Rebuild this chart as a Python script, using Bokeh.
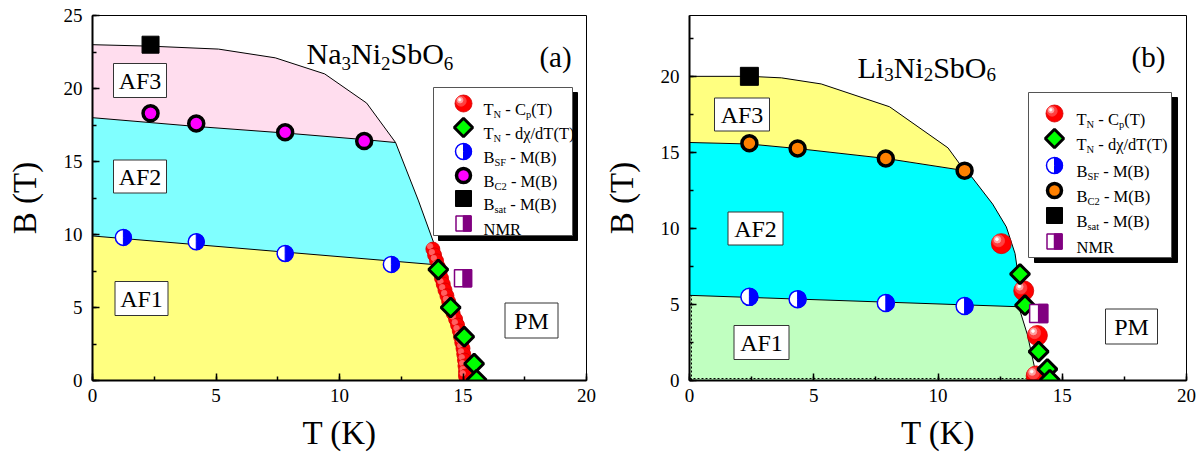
import math
from bokeh.plotting import figure
from bokeh.layouts import row
from bokeh.models import ColumnDataSource, SingleIntervalTicker, Range1d
from bokeh.core.properties import value
from bokeh.embed import file_html
from bokeh.resources import INLINE

FONT = "Liberation Serif"

# ---------------- Panel (a): Na3Ni2SbO6 ----------------
a_cp_T = [13.78, 13.85, 13.93, 14.0, 14.07, 14.13, 14.2, 14.27, 14.35, 14.42, 14.5, 14.6,
          14.7, 14.78, 14.85, 14.9, 14.95, 15.0, 15.03, 15.06, 15.08, 15.1, 15.1]
a_cp_B = [9.0, 8.6, 8.2, 7.8, 7.4, 7.0, 6.6, 6.2, 5.8, 5.4, 5.0, 4.6,
          4.2, 3.8, 3.4, 3.0, 2.6, 2.2, 1.8, 1.4, 1.0, 0.6, 0.3]
a_dchi_T = [14.0, 14.5, 15.05, 15.45, 15.55]
a_dchi_B = [7.6, 5.0, 3.0, 1.15, 0.05]
a_sf_T = [1.25, 4.2, 7.8, 12.1]
a_sf_B = [9.8, 9.5, 8.7, 7.95]
a_c2_T = [2.35, 4.2, 7.8, 11.0]
a_c2_B = [18.3, 17.6, 17.0, 16.4]
a_sat_T = [2.35]
a_sat_B = [23.0]
a_nmr_T = [15.0]
a_nmr_B = [7.0]
# phase boundaries (a)
a_b1_T = [0.0, 13.75]
a_b1_B = [9.9, 7.95]
a_b2_T = [0.0, 4.2, 7.8, 11.0, 12.27]
a_b2_B = [18.0, 17.4, 16.95, 16.5, 16.3]
a_top_T = [0.0, 2.35, 5.1, 7.4, 9.4, 11.1, 12.27]
a_top_B = [23.0, 22.9, 22.7, 22.1, 21.0, 19.0, 16.3]
a_e2_T = [12.27, 13.2, 13.8, 13.75]
a_e2_B = [16.3, 12.3, 9.5, 7.95]
a_e1_T = [13.75, 14.2, 14.6, 14.9, 15.0]
a_e1_B = [7.95, 6.0, 4.0, 2.0, 0.0]

# ---------------- Panel (b): Li3Ni2SbO6 ----------------
b_cp_T = [12.55, 13.45, 14.0, 13.95]
b_cp_B = [9.0, 5.9, 2.96, 0.3]
b_dchi_T = [13.3, 13.5, 14.05, 14.4, 14.5]
b_dchi_B = [7.0, 4.95, 1.9, 0.75, 0.05]
b_sf_T = [2.41, 4.35, 7.9, 11.07]
b_sf_B = [5.5, 5.35, 5.1, 4.9]
b_c2_T = [2.41, 4.35, 7.9, 11.07]
b_c2_B = [15.6, 15.26, 14.6, 13.8]
b_sat_T = [2.41]
b_sat_B = [20.0]
b_nmr_T = [14.05]
b_nmr_B = [4.4]
# phase boundaries (b)
b_b1_T = [0.0, 13.25]
b_b1_B = [5.6, 4.85]
b_b2_T = [0.0, 2.41, 4.35, 7.9, 11.07]
b_b2_B = [15.65, 15.55, 15.25, 14.6, 13.8]
b_top_T = [0.0, 2.41, 3.7, 5.3, 8.05, 10.4, 11.07]
b_top_B = [20.0, 20.0, 19.9, 19.5, 18.0, 15.3, 13.8]
b_e2_T = [11.07, 11.35, 12.2, 12.75, 13.1, 13.3, 13.25]
b_e2_B = [13.8, 13.4, 11.6, 10.1, 8.35, 6.1, 4.85]
b_e1_T = [13.25, 13.6, 14.0]
b_e1_B = [4.85, 3.0, 0.0]

x_ticks_interval = 5
legend_a = [("red", [("T", 0), ("N", 1), (" - C", 0), ("p", 1), ("(T)", 0)]),
            ("dia", [("T", 0), ("N", 1), (" - d\u03c7/dT(T)", 0)]),
            ("sf", [("B", 0), ("SF", 1), (" - M(B)", 0)]),
            ("c2", [("B", 0), ("C2", 1), (" - M(B)", 0)]),
            ("sat", [("B", 0), ("sat", 1), (" - M(B)", 0)]),
            ("nmr", [("NMR", 0)])]

W = {' ': 0.25, '-': 0.333, '(': 0.333, ')': 0.333, '/': 0.278, 'A': 0.722, 'B': 0.667,
     'C': 0.667, 'F': 0.556, 'K': 0.722, 'L': 0.611, 'M': 0.889, 'N': 0.722, 'O': 0.722,
     'P': 0.556, 'R': 0.667, 'S': 0.556, 'T': 0.611, 'a': 0.444, 'b': 0.5, 'd': 0.5,
     'i': 0.278, 'p': 0.5, 's': 0.389, 't': 0.278, '\u03c7': 0.55}


def tw(s, fs):
    return sum(W.get(ch, 0.5) for ch in s) * fs


def make_panel(frame_left, fw, ymax, bl, br):
    fh = 365
    p = figure(frame_width=fw, frame_height=fh, min_border_left=bl, min_border_right=br,
               min_border_top=15, min_border_bottom=81,
               x_range=Range1d(0, 20), y_range=Range1d(0, ymax),
               output_backend="svg", toolbar_location=None)
    p.xgrid.visible = False
    p.ygrid.visible = False
    p.outline_line_color = "black"
    p.outline_line_width = 1
    p.background_fill_color = "white"
    p.border_fill_color = "white"
    for ax in (p.xaxis[0], p.yaxis[0]):
        ax.ticker = SingleIntervalTicker(interval=x_ticks_interval, num_minor_ticks=2)
        ax.axis_line_width = 2
        ax.major_tick_in = 7
        ax.major_tick_out = 0
        ax.minor_tick_in = 4
        ax.minor_tick_out = 0
        ax.major_tick_line_width = 1.5
        ax.minor_tick_line_width = 1.5
        ax.major_label_text_font = FONT
        ax.major_label_text_font_size = "19px"
        ax.major_label_text_color = "black"
        ax.axis_label_text_font = FONT
        ax.axis_label_text_font_size = "33px"
        ax.axis_label_text_font_style = "normal"
        ax.axis_label_text_color = "black"
    p.xaxis.major_label_standoff = 8
    p.yaxis.major_label_standoff = 10
    p.xaxis.axis_label = "T (K)"
    p.yaxis.axis_label = "B (T)"
    p.xaxis.axis_label_standoff = 10
    p.yaxis.axis_label_standoff = 18
    return dict(p=p, left=frame_left, bottom=380, kx=fw / 20.0, ky=fh / ymax)


def d2(P, px, py):
    return ((px - P['left']) / P['kx'], (P['bottom'] - py) / P['ky'])


def region(P, Ts, Bs, color):
    P['p'].patch(Ts, Bs, fill_color=color, line_color=None)


def bline(P, Ts, Bs):
    P['p'].line(Ts, Bs, line_color="black", line_width=1)


def red_balls(P, Ts, Bs, d, light=True):
    kx, ky = P['kx'], P['ky']
    xs, ys, sz, fc, lc = [], [], [], [], []
    if light:
        layers = [(1.0, 0.0, "#FF0000", "#D00000"), (0.6, 0.14, "#FF4040", "#FF4040"),
                  (0.34, 0.2, "#FFA0A0", "#FFA0A0"), (0.14, 0.22, "#FFFFFF", "#FFFFFF")]
    else:
        layers = [(1.0, 0.0, "#FF0000", "#D00000"), (0.4, 0.2, "#FF6060", "#FF6060")]
    for T, B in zip(Ts, Bs):
        for f, o, c, l in layers:
            xs.append(T - o * d / kx)
            ys.append(B + o * d / ky)
            sz.append(f * d)
            fc.append(c)
            lc.append(l)
    src = ColumnDataSource(dict(x=xs, y=ys, s=sz, fc=fc, lc=lc))
    P['p'].scatter('x', 'y', size='s', fill_color='fc', line_color='lc', line_width=0.8, source=src)


def diamonds(P, Ts, Bs, s=13.5):
    P['p'].scatter(Ts, Bs, marker="square", angle=math.pi / 4, size=s, fill_color="#00FF00",
                   line_color="black", line_width=3)


def half_circles(P, Ts, Bs, d, color="#0000FF"):
    p = P['p']
    p.scatter(Ts, Bs, size=d, fill_color="white", line_color=color, line_width=1.5)
    p.wedge(Ts, Bs, radius=d / 2, radius_units="screen", start_angle=-math.pi / 2,
            end_angle=math.pi / 2, fill_color=color, line_color=color, line_width=1)


def ringed(P, Ts, Bs, s, color):
    P['p'].scatter(Ts, Bs, size=s, fill_color=color, line_color="black", line_width=3.5)


def squares(P, Ts, Bs, s):
    P['p'].scatter(Ts, Bs, marker="square", size=s, fill_color="black", line_color="black")


def nmr(P, Ts, Bs, w, h, color="#800080"):
    p = P['p']
    p.rect(Ts, Bs, width=w, height=h, width_units="screen", height_units="screen",
           fill_color="white", line_color=color, line_width=1.5)
    xs2 = [T + (w / 4.0) / P['kx'] for T in Ts]
    p.rect(xs2, Bs, width=w / 2.0, height=h, width_units="screen", height_units="screen",
           fill_color=color, line_color=color, line_width=1.5)


def rich(P, px, pybase, segs, fs, subfs, suboff, align="left"):
    x, y = d2(P, px, pybase)
    total = sum(tw(t, subfs if s else fs) for t, s in segs)
    off = -total / 2.0 if align == "center" else 0.0
    xs, ys, tx, xo, yo, fss = [], [], [], [], [], []
    for t, s in segs:
        f = subfs if s else fs
        lead = len(t) - len(t.lstrip(' '))
        core = t.strip(' ')
        trail = len(t) - lead - len(core)
        off += tw(' ' * lead, f)
        xs.append(x); ys.append(y); tx.append(core); xo.append(off)
        yo.append(suboff if s else 0); fss.append("%.1fpx" % f)
        off += tw(core, f) + tw(' ' * trail, f)
    src = ColumnDataSource(dict(x=xs, y=ys, text=tx, xo=xo, yo=yo, fs=fss))
    P['p'].text('x', 'y', text='text', x_offset='xo', y_offset='yo', text_font_size='fs',
                text_font=value(FONT), text_baseline="alphabetic", text_align="left",
                text_color="black", source=src)


def boxed(P, px, py, w, h, text, fs=24):
    x, y = d2(P, px, py)
    p = P['p']
    p.rect([x], [y], width=w, height=h, width_units="screen", height_units="screen",
           fill_color="white", line_color="#333333", line_width=1)
    p.text([x], [y], text=[text], text_align="center", text_baseline="middle",
           text_font=value(FONT), text_font_size="%dpx" % fs, text_color="black")


def legend(P, box, shadow, rows_y, mx, tx, items, c2color, red_d=17):
    p = P['p']
    x0, y0, x1, y1 = box
    cx, cy = d2(P, (x0 + x1) / 2 + shadow[0], (y0 + y1) / 2 + shadow[1])
    p.rect([cx], [cy], width=x1 - x0, height=y1 - y0, width_units="screen", height_units="screen",
           fill_color="black", line_color="black")
    cx, cy = d2(P, (x0 + x1) / 2, (y0 + y1) / 2)
    p.rect([cx], [cy], width=x1 - x0, height=y1 - y0, width_units="screen", height_units="screen",
           fill_color="white", line_color="#555555", line_width=1)
    for (kind, segs), ry in zip(items, rows_y):
        T, B = d2(P, mx, ry)
        if kind == "red":
            red_balls(P, [T], [B], red_d)
        elif kind == "dia":
            diamonds(P, [T], [B], 13)
        elif kind == "sf":
            half_circles(P, [T], [B], 16)
        elif kind == "c2":
            ringed(P, [T], [B], 14, c2color)
        elif kind == "sat":
            squares(P, [T], [B], 16)
        elif kind == "nmr":
            nmr(P, [T], [B], 15, 15)
        rich(P, tx, ry + 6, segs, 16.5, 10.5, 4.5)


# ---------------- build panel (a) ----------------
A = make_panel(92, 494, 25, 92, 14)
pa = A['p']
region(A, [0.0] + a_b1_T + a_e1_T[1:] + [0.0], [0.0] + a_b1_B + a_e1_B[1:] + [0.0], "#FFFF80")
region(A, a_b2_T + a_e2_T[1:] + a_b1_T[::-1], a_b2_B + a_e2_B[1:] + a_b1_B[::-1], "#80FFFF")
region(A, a_top_T + a_b2_T[::-1], a_top_B + a_b2_B[::-1], "#FFDDEE")
for Ts, Bs in ((a_top_T, a_top_B), (a_b2_T, a_b2_B), (a_e2_T, a_e2_B), (a_b1_T, a_b1_B), (a_e1_T, a_e1_B)):
    bline(A, Ts, Bs)
boxed(A, 139.5, 80, 53, 34, "AF3")
boxed(A, 139.5, 176, 53, 33, "AF2")
boxed(A, 141, 298, 53, 34, "AF1")
boxed(A, 531, 320, 53, 35, "PM")
half_circles(A, a_sf_T, a_sf_B, 16)
ringed(A, a_c2_T, a_c2_B, 15, "#FF00FF")
squares(A, a_sat_T, a_sat_B, 17)
red_balls(A, a_cp_T, a_cp_B, 14, light=False)
diamonds(A, a_dchi_T, a_dchi_B)
nmr(A, a_nmr_T, a_nmr_B, 17, 17)
rich(A, 306, 53, [("Na", 0), ("3", 1), ("Ni", 0), ("2", 1), ("SbO", 0), ("6", 1)], 30, 19, 10)
rich(A, 555, 56, [("(a)", 0)], 29, 19, 0, align="center")
legend(A, (433, 87, 572, 235), (5, 5), [103, 127, 151, 175, 198, 223], 463, 483, legend_a, "#FF00FF")

# ---------------- build panel (b) ----------------
Bp = make_panel(688, 497, 24, 88, 17)
pb = Bp['p']
region(Bp, [0.0] + b_b1_T + b_e1_T[1:] + [0.0], [0.0] + b_b1_B + b_e1_B[1:] + [0.0], "#C0FFC0")
region(Bp, b_b2_T + b_e2_T[1:] + b_b1_T[::-1], b_b2_B + b_e2_B[1:] + b_b1_B[::-1], "#00FFFF")
region(Bp, b_top_T + b_b2_T[::-1], b_top_B + b_b2_B[::-1], "#FFFF80")
for Ts, Bs in ((b_top_T, b_top_B), (b_b2_T, b_b2_B), (b_e2_T, b_e2_B), (b_b1_T, b_b1_B), (b_e1_T, b_e1_B)):
    bline(Bp, Ts, Bs)
# dotted edges of AF1 along the axes
dx0, dy0 = 2.0 / Bp['kx'], 2.0 / Bp['ky']
pb.line([dx0, dx0], [0.0, b_b1_B[0]], line_color="black", line_width=1, line_dash="2 2")
pb.line([0.0, b_e1_T[-1]], [dy0, dy0], line_color="black", line_width=1, line_dash="2 2")
boxed(Bp, 740.5, 114, 55, 33, "AF3")
boxed(Bp, 754, 228, 55, 33, "AF2")
boxed(Bp, 760, 342, 55, 34, "AF1")
boxed(Bp, 1130, 326, 52, 35, "PM")
half_circles(Bp, b_sf_T, b_sf_B, 17)
ringed(Bp, b_c2_T, b_c2_B, 15, "#FF8000")
squares(Bp, b_sat_T, b_sat_B, 18)
red_balls(Bp, b_cp_T, b_cp_B, 20)
diamonds(Bp, b_dchi_T, b_dchi_B)
nmr(Bp, b_nmr_T, b_nmr_B, 18, 18)
rich(Bp, 856, 67, [("Li", 0), ("3", 1), ("Ni", 0), ("2", 1), ("SbO", 0), ("6", 1)], 30, 19, 7)
rich(Bp, 1147, 56, [("(b)", 0)], 29, 19, 0, align="center")
legend(Bp, (1027, 92, 1170, 257), (6, 5), [113, 138, 165, 190, 215, 241], 1053, 1075, legend_a, "#FF8000")

layout = row(pa, pb)
open("out.html", "w").write(file_html(layout, INLINE))
